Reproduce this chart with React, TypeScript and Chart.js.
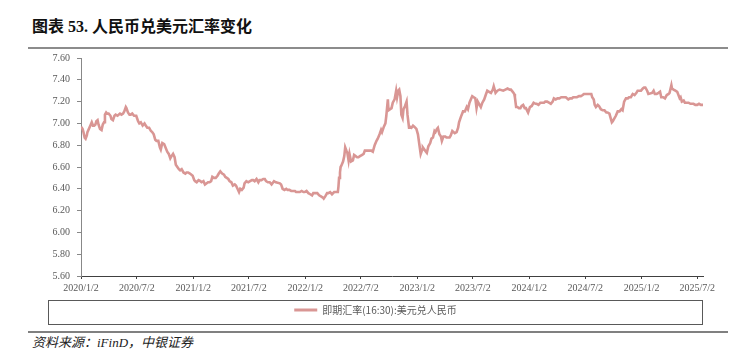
import React, { useEffect, useRef } from "react";
import { Chart, registerables } from "chart.js";

Chart.register(...registerables);

const TITLE = "图表 53. 人民币兑美元汇率变化";
const SOURCE = "资料来源：iFinD，中银证券";
const SERIES_LABEL = "即期汇率(16:30):美元兑人民币";
const LINE_COLOR = "#D99694";

const X_TICK_LABELS = [
  "2020/1/2", "2020/7/2", "2021/1/2", "2021/7/2", "2022/1/2", "2022/7/2",
  "2023/1/2", "2023/7/2", "2024/1/2", "2024/7/2", "2025/1/2", "2025/7/2",
];
const Y_MIN = 5.6;
const Y_MAX = 7.6;
const Y_STEP = 0.2;

const rates2020: [string, number][] = [
  ["01-02", 6.97], ["01-07", 6.95], ["01-10", 6.92], ["01-14", 6.87], ["01-17", 6.86],
  ["01-21", 6.89], ["01-23", 6.92], ["02-03", 6.99], ["02-06", 7.01], ["02-10", 6.98],
  ["02-14", 6.98], ["02-18", 6.99], ["02-21", 7.02], ["02-25", 7.03], ["02-28", 6.99],
  ["03-04", 6.95], ["03-09", 6.94], ["03-13", 6.99], ["03-17", 7.01], ["03-20", 7.08],
  ["03-24", 7.10], ["03-27", 7.09], ["04-01", 7.09], ["04-07", 7.07], ["04-10", 7.04],
  ["04-15", 7.03], ["04-20", 7.07], ["04-24", 7.08], ["04-30", 7.07], ["05-08", 7.09],
  ["05-13", 7.08], ["05-18", 7.09], ["05-22", 7.11], ["05-27", 7.15], ["05-29", 7.14],
  ["06-03", 7.10], ["06-08", 7.08], ["06-12", 7.08], ["06-17", 7.09], ["06-23", 7.07],
  ["06-30", 7.07], ["07-06", 7.02], ["07-10", 7.00], ["07-15", 7.01], ["07-21", 6.98],
  ["07-27", 7.00], ["07-31", 6.98], ["08-05", 6.96], ["08-11", 6.96], ["08-17", 6.93],
  ["08-21", 6.92], ["08-26", 6.90], ["08-31", 6.85], ["09-04", 6.84], ["09-10", 6.84],
  ["09-15", 6.78], ["09-18", 6.76], ["09-23", 6.82], ["09-29", 6.81], ["10-09", 6.74],
  ["10-14", 6.72], ["10-19", 6.68], ["10-23", 6.70], ["10-28", 6.72], ["11-02", 6.69],
  ["11-06", 6.62], ["11-11", 6.60], ["11-16", 6.58], ["11-20", 6.57], ["11-25", 6.58],
  ["12-01", 6.55], ["12-07", 6.54], ["12-11", 6.55], ["12-16", 6.55], ["12-22", 6.54],
  ["12-31", 6.52],
];

const rates2021: [string, number][] = [
  ["01-05", 6.48], ["01-08", 6.47], ["01-13", 6.46], ["01-19", 6.48], ["01-25", 6.47],
  ["01-29", 6.46], ["02-04", 6.47], ["02-09", 6.44], ["02-19", 6.46], ["02-24", 6.46],
  ["03-01", 6.47], ["03-05", 6.51], ["03-10", 6.50], ["03-16", 6.50], ["03-22", 6.52],
  ["03-26", 6.54], ["03-31", 6.56], ["04-06", 6.54], ["04-12", 6.53], ["04-16", 6.51],
  ["04-21", 6.50], ["04-26", 6.49], ["04-30", 6.47], ["05-06", 6.46], ["05-11", 6.43],
  ["05-17", 6.44], ["05-21", 6.43], ["05-26", 6.40], ["05-31", 6.37], ["06-04", 6.40],
  ["06-09", 6.39], ["06-15", 6.41], ["06-18", 6.45], ["06-24", 6.47], ["06-30", 6.46],
  ["07-06", 6.47], ["07-12", 6.48], ["07-16", 6.48], ["07-21", 6.47], ["07-27", 6.49],
  ["08-02", 6.46], ["08-06", 6.48], ["08-12", 6.48], ["08-18", 6.49], ["08-23", 6.49],
  ["08-27", 6.47], ["09-02", 6.46], ["09-08", 6.46], ["09-14", 6.44], ["09-22", 6.47],
  ["09-28", 6.46], ["10-11", 6.45], ["10-15", 6.44], ["10-20", 6.40], ["10-26", 6.39],
  ["11-01", 6.40], ["11-05", 6.39], ["11-11", 6.39], ["11-17", 6.38], ["11-23", 6.38],
  ["11-29", 6.38], ["12-03", 6.37], ["12-09", 6.37], ["12-15", 6.37], ["12-21", 6.38],
  ["12-27", 6.37], ["12-31", 6.37],
];

const rates2022: [string, number][] = [
  ["01-06", 6.38], ["01-12", 6.36], ["01-18", 6.35], ["01-24", 6.34], ["01-28", 6.36],
  ["02-10", 6.36], ["02-16", 6.34], ["02-22", 6.33], ["02-28", 6.32], ["03-03", 6.31],
  ["03-08", 6.33], ["03-14", 6.36], ["03-18", 6.36], ["03-24", 6.37], ["03-30", 6.35],
  ["04-06", 6.37], ["04-12", 6.37], ["04-18", 6.37], ["04-20", 6.42], ["04-22", 6.50],
  ["04-25", 6.55], ["04-27", 6.60], ["04-29", 6.61], ["05-05", 6.65], ["05-09", 6.70],
  ["05-12", 6.78], ["05-16", 6.75], ["05-19", 6.73], ["05-23", 6.66], ["05-26", 6.72],
  ["05-31", 6.65], ["06-06", 6.66], ["06-10", 6.71], ["06-15", 6.70], ["06-20", 6.69],
  ["06-24", 6.69], ["06-29", 6.70], ["07-05", 6.71], ["07-11", 6.72], ["07-15", 6.75],
  ["07-20", 6.75], ["07-26", 6.75], ["08-01", 6.75], ["08-05", 6.75], ["08-10", 6.74],
  ["08-16", 6.80], ["08-22", 6.84], ["08-26", 6.86], ["09-01", 6.90], ["09-06", 6.94],
  ["09-09", 6.92], ["09-15", 6.97], ["09-20", 7.00], ["09-23", 7.07], ["09-28", 7.22],
  ["09-30", 7.12], ["10-10", 7.14], ["10-14", 7.19], ["10-20", 7.22], ["10-25", 7.30],
  ["10-28", 7.24], ["11-01", 7.30], ["11-04", 7.31], ["11-08", 7.25], ["11-11", 7.08],
  ["11-15", 7.05], ["11-18", 7.13], ["11-23", 7.16], ["11-28", 7.20], ["12-01", 7.08],
  ["12-06", 6.96], ["12-09", 6.97], ["12-14", 6.96], ["12-19", 6.98], ["12-23", 6.97],
  ["12-30", 6.95],
];

const rates2023: [string, number][] = [
  ["01-04", 6.90], ["01-09", 6.80], ["01-13", 6.72], ["01-18", 6.76], ["01-20", 6.78],
  ["01-30", 6.74], ["02-02", 6.73], ["02-07", 6.79], ["02-13", 6.82], ["02-17", 6.86],
  ["02-22", 6.87], ["02-27", 6.93], ["03-02", 6.92], ["03-07", 6.95], ["03-10", 6.96],
  ["03-15", 6.90], ["03-20", 6.88], ["03-23", 6.84], ["03-28", 6.88], ["04-03", 6.88],
  ["04-07", 6.87], ["04-12", 6.87], ["04-17", 6.87], ["04-21", 6.89], ["04-26", 6.93],
  ["05-04", 6.91], ["05-10", 6.92], ["05-15", 6.96], ["05-18", 7.01], ["05-24", 7.06],
  ["05-31", 7.11], ["06-06", 7.11], ["06-12", 7.15], ["06-16", 7.13], ["06-21", 7.19],
  ["06-27", 7.23], ["06-30", 7.25], ["07-05", 7.24], ["07-10", 7.23], ["07-14", 7.14],
  ["07-18", 7.20], ["07-24", 7.17], ["07-28", 7.15], ["08-02", 7.19], ["08-08", 7.22],
  ["08-14", 7.27], ["08-18", 7.30], ["08-24", 7.29], ["08-30", 7.28], ["09-05", 7.31],
  ["09-08", 7.34], ["09-14", 7.28], ["09-20", 7.30], ["09-27", 7.31], ["10-09", 7.30],
  ["10-16", 7.31], ["10-23", 7.32], ["10-30", 7.31], ["11-03", 7.31], ["11-09", 7.29],
  ["11-14", 7.27], ["11-16", 7.24], ["11-20", 7.15], ["11-24", 7.15], ["11-29", 7.14],
  ["12-04", 7.14], ["12-08", 7.16], ["12-13", 7.17], ["12-18", 7.14], ["12-22", 7.14],
  ["12-29", 7.10],
];

const rates2024: [string, number][] = [
  ["01-04", 7.15], ["01-10", 7.16], ["01-16", 7.19], ["01-22", 7.18], ["01-26", 7.18],
  ["02-01", 7.17], ["02-07", 7.19], ["02-19", 7.19], ["02-23", 7.20], ["02-29", 7.20],
  ["03-06", 7.19], ["03-12", 7.18], ["03-18", 7.20], ["03-22", 7.23], ["03-28", 7.22],
  ["04-03", 7.23], ["04-09", 7.23], ["04-15", 7.24], ["04-19", 7.24], ["04-25", 7.24],
  ["04-30", 7.24], ["05-08", 7.22], ["05-14", 7.23], ["05-20", 7.23], ["05-24", 7.24],
  ["05-30", 7.24], ["06-05", 7.24], ["06-12", 7.25], ["06-18", 7.25], ["06-24", 7.26],
  ["06-28", 7.27], ["07-04", 7.27], ["07-10", 7.27], ["07-16", 7.27], ["07-22", 7.27],
  ["07-25", 7.24], ["07-30", 7.22], ["08-02", 7.17], ["08-06", 7.15], ["08-12", 7.17],
  ["08-16", 7.16], ["08-22", 7.13], ["08-28", 7.12], ["09-03", 7.12], ["09-09", 7.10],
  ["09-13", 7.10], ["09-19", 7.09], ["09-24", 7.04], ["09-27", 7.01], ["09-30", 7.02],
  ["10-10", 7.07], ["10-16", 7.11], ["10-22", 7.11], ["10-28", 7.13], ["11-01", 7.12],
  ["11-06", 7.20], ["11-12", 7.23], ["11-18", 7.23], ["11-22", 7.24], ["11-28", 7.24],
  ["12-04", 7.27], ["12-10", 7.26], ["12-16", 7.28], ["12-20", 7.30], ["12-26", 7.30],
  ["12-31", 7.30],
];

const rates2025: [string, number][] = [
  ["01-06", 7.32], ["01-10", 7.33], ["01-14", 7.33], ["01-20", 7.30], ["01-24", 7.27],
  ["02-05", 7.28], ["02-10", 7.30], ["02-14", 7.27], ["02-20", 7.27], ["02-26", 7.28],
  ["03-03", 7.29], ["03-07", 7.24], ["03-13", 7.24], ["03-19", 7.23], ["03-25", 7.26],
  ["03-31", 7.27], ["04-03", 7.28], ["04-09", 7.35], ["04-11", 7.32], ["04-16", 7.31],
  ["04-22", 7.30], ["04-28", 7.29], ["05-06", 7.23], ["05-09", 7.24], ["05-13", 7.20],
  ["05-19", 7.21], ["05-23", 7.19], ["05-29", 7.19], ["06-04", 7.19], ["06-10", 7.18],
  ["06-16", 7.18], ["06-20", 7.18], ["06-26", 7.17], ["07-02", 7.17], ["07-08", 7.18],
  ["07-14", 7.17], ["07-18", 7.17], ["07-21", 7.17],
];

const YEARS: [number, [string, number][]][] = [
  [2020, rates2020], [2021, rates2021], [2022, rates2022],
  [2023, rates2023], [2024, rates2024], [2025, rates2025],
];

const ORIGIN = Date.UTC(2020, 0, 2);
function dayIndex(y: number, m: number, d: number): number {
  return Math.round((Date.UTC(y, m - 1, d) - ORIGIN) / 86400000);
}

const SERIF = "'Liberation Serif', 'Times New Roman', 'Noto Sans CJK SC', serif";
const CJK = "'Noto Sans CJK SC', 'Liberation Serif', serif";
const CANVAS_TOP = 45;
const CANVAS_H = 280;

const legendBoxPlugin = {
  id: "legendBox",
  afterDraw(chart: any) {
    const ctx = chart.ctx;
    ctx.save();
    ctx.strokeStyle = "#595959";
    ctx.lineWidth = 1;
    ctx.strokeRect(48.5, 300.5 - CANVAS_TOP, 654, 24);
    ctx.restore();
  },
};

export default function App() {
  const canvasRef = useRef<HTMLCanvasElement | null>(null);

  useEffect(() => {
    const points: { x: number; y: number }[] = [];
    YEARS.forEach(([year, rows]) => {
      rows.forEach(([md, v]) => {
        const [m, d] = md.split("-").map(Number);
        points.push({ x: dayIndex(year, m, d), y: v });
      });
    });
    const xTickValues = X_TICK_LABELS.map((s) => {
      const [y, m, d] = s.split("/").map(Number);
      return dayIndex(y, m, d);
    });
    const lastX = points[points.length - 1].x;

    const chart = new Chart(canvasRef.current as HTMLCanvasElement, {
      type: "line",
      data: {
        datasets: [
          {
            label: SERIES_LABEL,
            data: points,
            borderColor: LINE_COLOR,
            backgroundColor: LINE_COLOR,
            borderWidth: 2.6,
            pointRadius: 0,
            tension: 0,
          },
        ],
      },
      options: {
        animation: false,
        responsive: false,
        maintainAspectRatio: false,
        layout: { padding: { left: 48, right: 36, top: 7, bottom: 0 } },
        plugins: {
          tooltip: { enabled: false },
          legend: {
            position: "bottom",
            labels: {
              boxWidth: 23,
              boxHeight: 3,
              padding: 7,
              color: "#595959",
              font: { size: 10, family: CJK },
              generateLabels: (c: any) =>
                (Chart.defaults.plugins.legend.labels as any)
                  .generateLabels(c)
                  .map((l: any) => ({ ...l, lineWidth: 0, fillStyle: LINE_COLOR })),
            },
          },
        },
        scales: {
          x: {
            type: "linear",
            min: 0,
            max: lastX,
            afterBuildTicks: (s: any) => {
              s.ticks = xTickValues.map((v) => ({ value: v }));
            },
            afterFit: (s: any) => {
              s.height = 22;
            },
            ticks: {
              autoSkip: false,
              maxRotation: 0,
              padding: 3,
              color: "#595959",
              font: { size: 10, family: SERIF },
              callback: (_v: any, i: number) => X_TICK_LABELS[i],
            },
            grid: {
              display: true,
              drawOnChartArea: false,
              drawTicks: true,
              tickLength: 3,
              color: "#404040",
            },
            border: { display: true, color: "#404040", width: 1 },
          },
          y: {
            min: Y_MIN,
            max: Y_MAX,
            afterFit: (s: any) => {
              s.width = 33;
            },
            ticks: {
              stepSize: Y_STEP,
              padding: 7,
              color: "#595959",
              font: { size: 10, family: SERIF },
              callback: (v: any) => Number(v).toFixed(2),
            },
            grid: {
              display: true,
              drawOnChartArea: false,
              drawTicks: true,
              tickLength: 4,
              color: "#888888",
            },
            border: { display: true, color: "#888888", width: 1 },
          },
        },
      },
      plugins: [legendBoxPlugin],
    } as any);

    return () => chart.destroy();
  }, []);

  return (
    <div
      style={{
        position: "fixed",
        left: 0,
        top: 0,
        width: 739,
        height: 355,
        background: "#ffffff",
        overflow: "hidden",
      }}
    >
      <div
        style={{
          position: "absolute",
          left: 32,
          top: 17,
          fontFamily: SERIF,
          fontWeight: 700,
          fontSize: 16,
          lineHeight: "20px",
          color: "#111111",
          whiteSpace: "nowrap",
        }}
      >
        {TITLE}
      </div>
      <div
        style={{
          position: "absolute",
          left: 28,
          top: 47,
          width: 700,
          height: 2,
          background: "#8c8c8c",
        }}
      />
      <canvas
        ref={canvasRef}
        width={739}
        height={CANVAS_H}
        style={{ position: "absolute", left: 0, top: CANVAS_TOP, width: 739, height: CANVAS_H }}
      />
      <div
        style={{
          position: "absolute",
          left: 28,
          top: 331,
          width: 700,
          height: 1.5,
          background: "#808080",
        }}
      />
      <div
        style={{
          position: "absolute",
          left: 32,
          top: 335,
          fontFamily: SERIF,
          fontStyle: "italic",
          fontSize: 13,
          lineHeight: "16px",
          color: "#222222",
          whiteSpace: "nowrap",
        }}
      >
        {SOURCE}
      </div>
    </div>
  );
}
